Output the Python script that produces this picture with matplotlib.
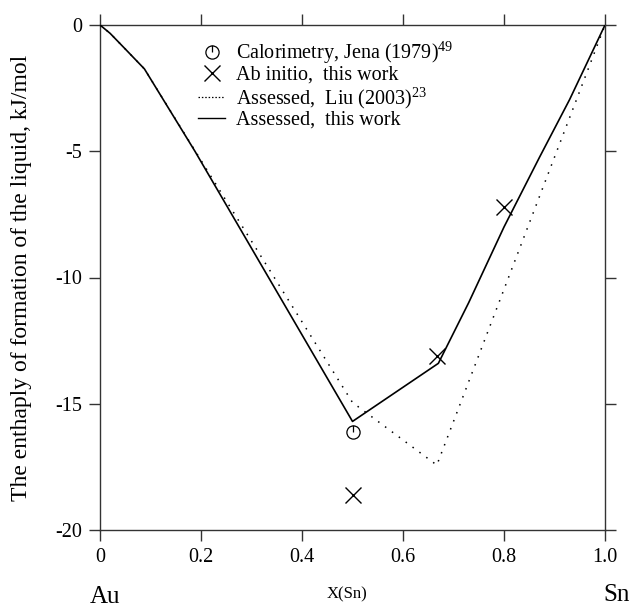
import matplotlib
matplotlib.use("Agg")
import matplotlib.pyplot as plt
from matplotlib.path import Path
from matplotlib.lines import Line2D
import numpy as np

plt.rcParams['font.family'] = ['Liberation Serif', 'DejaVu Serif']
plt.rcParams['mathtext.fontset'] = 'custom'
plt.rcParams['mathtext.rm'] = 'Liberation Serif'

# Data
assessed_this_x = [0.0, 0.02, 0.05, 0.088, 0.188, 0.5, 0.67, 0.73, 0.80, 0.87, 0.93, 1.0]
assessed_this_y = [0.0, -0.33, -0.95, -1.74, -5.0, -15.7, -13.4, -11.0, -8.0, -5.25, -2.95, 0.0]

liu_x = [0.0, 0.02, 0.05, 0.088, 0.218, 0.5, 0.667, 1.0]
liu_y = [0.0, -0.33, -0.95, -1.74, -5.94, -14.95, -17.43, 0.0]

calor_x = [0.5]
calor_y = [-16.1]

abinitio_x = [0.5, 0.667, 0.8]
abinitio_y = [-18.6, -13.1, -7.2]

xticks = [0, 0.2, 0.4, 0.6, 0.8, 1.0]
xticklabels = ['0', '0.2', '0.4', '0.6', '0.8', '1.0']
yticks = [0, -5, -10, -15, -20]
yticklabels = ['0', '-5', '-10', '-15', '-20']

fig = plt.figure(figsize=(6.35, 6.07), dpi=100)
ax = fig.add_axes([100/635, 77/607, 505/635, 505/607])

dotted = (0, (1.0, 4.6))
ax.plot(liu_x, liu_y, color='black', lw=1.1, linestyle=dotted, zorder=2)
ax.plot(assessed_this_x, assessed_this_y, color='black', lw=1.2, zorder=3)

circ = Path.unit_circle()
verts = np.concatenate([circ.vertices, [[0, 1], [0, 0]]])
codes = np.concatenate([circ.codes, [Path.MOVETO, Path.LINETO]])
calor_marker = Path(verts, codes)

ax.plot(calor_x, calor_y, linestyle='none', marker=calor_marker, markersize=9.5,
        markerfacecolor='none', markeredgecolor='black', markeredgewidth=0.9, zorder=4)
ax.plot(abinitio_x, abinitio_y, linestyle='none', marker='x', markersize=11.5,
        markeredgecolor='black', markeredgewidth=1.0, zorder=4)

ax.set_xlim(0, 1.0)
ax.set_ylim(-20, 0)
ax.set_xticks(xticks)
ax.set_xticklabels(xticklabels)
ax.set_yticks(yticks)
ax.set_yticklabels(yticklabels)
ax.tick_params(direction='out', length=8, width=1.0, color='#333333', labelsize=14.5,
               top=True, right=True, pad=5)
for s in ax.spines.values():
    s.set_linewidth(1.0)
    s.set_color('#333333')

ax.set_ylabel('The enthaply of formation of the liquid, kJ/mol', fontsize=17)
ax.yaxis.set_label_coords(-0.135, 0.5)

fig.text(90/635, 1 - 597/607, 'Au', fontsize=18, ha='left', va='center')
fig.text(617/635, 1 - 595/607, 'Sn', fontsize=18, ha='center', va='center')
fig.text(346.7/635, 1 - 594/607, 'X(Sn)', fontsize=12, ha='center', va='center')

handles = [
    Line2D([], [], linestyle='none', marker=calor_marker, markersize=9.5,
           markerfacecolor='none', markeredgecolor='black', markeredgewidth=0.9),
    Line2D([], [], linestyle='none', marker='x', markersize=11.5,
           markeredgecolor='black', markeredgewidth=1.0),
    Line2D([], [], color='black', lw=0.9, linestyle=(0, (1.2, 1.5))),
    Line2D([], [], color='black', lw=1.0),
]
labels = [r'Calorimetry, Jena (1979)$^{49}$', 'Ab initio,  this work',
          r'Assessed,  Liu (2003)$^{23}$', 'Assessed,  this work']
leg = ax.legend(handles, labels, loc='upper left', bbox_to_anchor=(98/505, 1 - 14/505),
                frameon=False, fontsize=14.5, handlelength=1.35, handletextpad=0.55,
                labelspacing=0.0, borderpad=0, borderaxespad=0)

fig.savefig('out.png', dpi=100)
